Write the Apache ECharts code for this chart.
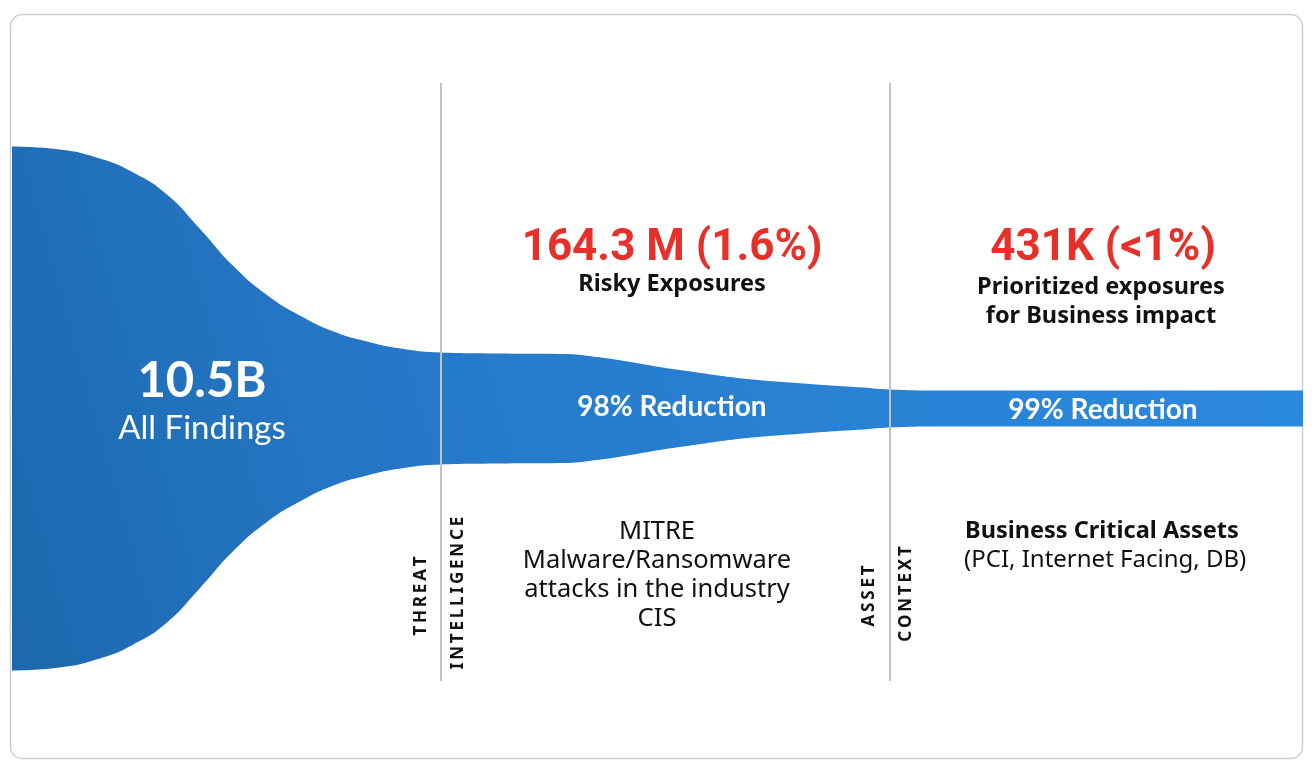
<!DOCTYPE html>
<html>
<head>
<meta charset="utf-8">
<title>exposure funnel</title>
<script src="https://cdn.jsdelivr.net/npm/echarts@6/dist/echarts.min.js"></script>
<style>
  html, body { margin: 0; padding: 0; background: #fff; }
  #main { width: 1314px; height: 772px; }
</style>
</head>
<body>
<div id="main"></div>
<script type="text/javascript">
  // funnel profile: position along the pipeline (% of length) and the band width
  var positions = [0, 3.7, 6.8, 9.4, 12.0, 14.6, 17.1, 19.8, 22.3, 24.9, 27.5, 30.1, 33.2,
                   37.6, 42.7, 45.3, 47.9, 50.4, 53.1, 55.6, 58.2, 60.8, 63.4, 65.9, 68.0,
                   72, 80, 90, 100];
  var widths = [524, 518, 500, 472, 428, 358, 286, 226, 186, 154, 134, 120, 112,
                110, 109, 103, 93, 82, 72, 63, 56, 51, 46, 42, 38,
                36, 36, 36, 36];
  // stage boundaries (threat intelligence / asset context)
  var stageBounds = [33.2, 68.0];

  var stageTitles = ['164.3 M (1.6%)', '431K (<1%)'];
  var stageSubtitles = [['Risky Exposures'], ['Prioritized exposures', 'for Business impact']];
  var reductions = ['98% Reduction', '99% Reduction'];
  var mitreLines = ['MITRE', 'Malware/Ransomware', 'attacks in the industry', 'CIS'];

  // the band is centred on this value of the y axis
  var centre = 272.5;

  var myChart = echarts.init(document.getElementById('main'));

  // value first, position second: with two value axes echarts stacks the first dimension
  var lower = positions.map(function (p, i) { return [centre - widths[i] / 2, p]; });
  var band = positions.map(function (p, i) { return [widths[i], p]; });

  // spread capitals a little, like the letter-spaced labels in the design
  function spaced(s) { return s.split('').join('\u2009'); }

  var blackFont = '"Noto Sans", sans-serif';
  var whiteFont = 'Lato, sans-serif';
  var redFont = 'Roboto, sans-serif';

  function txt(x, y, text, size, weight, color, family, align, rot) {
    return {
      type: 'text',
      x: x, y: y,
      rotation: rot || 0,
      z: 10,
      style: {
        text: text,
        fill: color,
        font: weight + ' ' + size + 'px ' + family,
        textAlign: align || 'center',
        textVerticalAlign: 'middle'
      }
    };
  }

  var graphics = [
    {
      type: 'rect', z: -10, silent: true,
      shape: { x: 10.5, y: 14.5, width: 1292, height: 744, r: 12 },
      style: { fill: '#fff', stroke: '#cfcfcf', lineWidth: 1.5 }
    },
    txt(202, 381, '10.5B', 49, 'bold', '#fff', whiteFont),
    txt(202, 428, 'All Findings', 33, 'normal', '#fff', whiteFont),
    txt(672, 249, stageTitles[0], 44, 'bold', '#e8302a', redFont),
    txt(672, 284, stageSubtitles[0][0], 23.5, 'bold', '#111', blackFont),
    txt(1103, 249, stageTitles[1], 44, 'bold', '#e8302a', redFont),
    txt(1101, 287, stageSubtitles[1][0], 23.5, 'bold', '#111', blackFont),
    txt(1101, 316, stageSubtitles[1][1], 23.5, 'bold', '#111', blackFont),
    txt(672, 407, reductions[0], 28, 'bold', '#fff', whiteFont),
    txt(1103, 410, reductions[1], 28, 'bold', '#fff', whiteFont),
    txt(965, 531, 'Business Critical Assets', 23.5, 'bold', '#111', blackFont, 'left'),
    txt(964, 560, '(PCI, Internet Facing, DB)', 24, 'normal', '#111', blackFont, 'left'),
    txt(421, 596, spaced('THREAT'), 17, 'bold', '#111', blackFont, 'center', Math.PI / 2),
    txt(458, 593, spaced('INTELLIGENCE'), 17, 'bold', '#111', blackFont, 'center', Math.PI / 2),
    txt(869, 596, spaced('ASSET'), 17, 'bold', '#111', blackFont, 'center', Math.PI / 2),
    txt(906, 594, spaced('CONTEXT'), 17, 'bold', '#111', blackFont, 'center', Math.PI / 2)
  ];
  mitreLines.forEach(function (line, i) {
    graphics.push(txt(657, 532 + i * 29, line, 25.5, 'normal', '#111', blackFont));
  });

  myChart.setOption({
    animation: false,
    backgroundColor: '#fff',
    grid: { left: 12, right: 11, top: 83, bottom: 91 },
    xAxis: { type: 'value', min: 0, max: 100, show: false },
    yAxis: { type: 'value', min: 0, max: 598, show: false },
    graphic: graphics,
    series: [
      {
        type: 'line',
        stack: 'funnel',
        encode: { x: 1, y: 0 },
        data: lower,
        smooth: 0.5,
        symbol: 'none',
        lineStyle: { width: 0 },
        silent: true
      },
      {
        type: 'line',
        stack: 'funnel',
        encode: { x: 1, y: 0 },
        data: band,
        smooth: 0.5,
        symbol: 'none',
        lineStyle: { width: 0 },
        silent: true,
        areaStyle: {
          opacity: 1,
          color: new echarts.graphic.LinearGradient(0, 1, 1, 0.3, [
            { offset: 0, color: '#1d68ae' },
            { offset: 0.3, color: '#2577c6' },
            { offset: 0.6, color: '#2881d3' },
            { offset: 1, color: '#2b89dd' }
          ])
        },
        markLine: {
          silent: true,
          symbol: 'none',
          label: { show: false },
          lineStyle: { color: '#c2c2c2', width: 2, type: 'solid' },
          data: stageBounds.map(function (b) { return { xAxis: b }; })
        }
      }
    ]
  });
</script>
</body>
</html>
